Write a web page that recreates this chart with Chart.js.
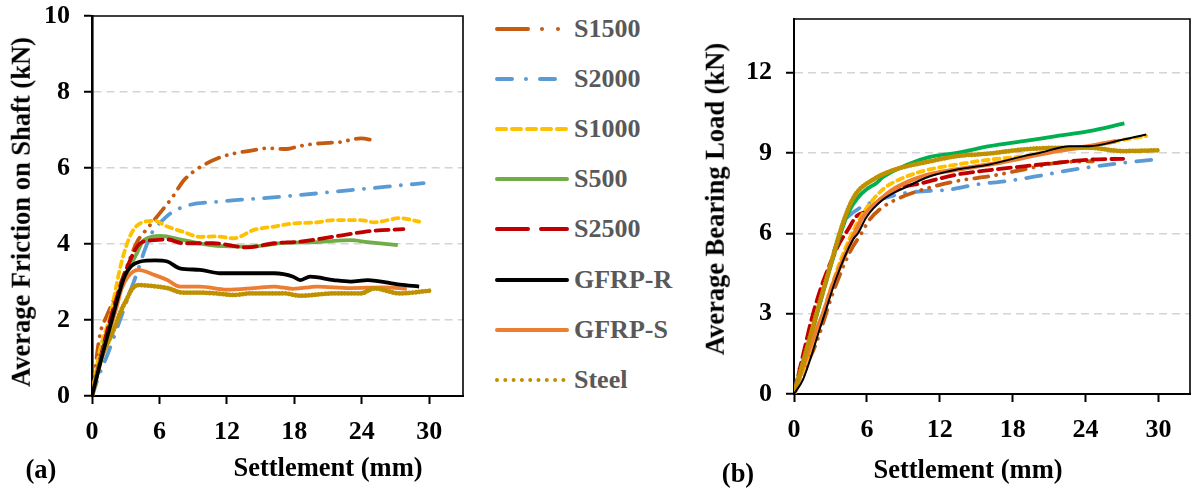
<!DOCTYPE html>
<html>
<head>
<meta charset="utf-8">
<script src="https://cdn.jsdelivr.net/npm/chart.js@4.4.1/dist/chart.umd.min.js"></script>
<style>
  html, body { margin: 0; padding: 0; background: #fff; }
  body { width: 1191px; height: 496px; position: relative; overflow: hidden;
         font-family: "Liberation Serif", "Times New Roman", serif; font-weight: bold; }
  .abs { position: absolute; white-space: nowrap; line-height: 1; }
  .t { font-size: 26.5px; color: #000; transform: translate(-50%, -50%); }
  .ty { font-size: 26.5px; color: #000; transform: translate(-50%, -50%) rotate(-90deg); }
  #wrapA { position: absolute; left: 0; top: 0; width: 470px; height: 496px; }
  #wrapB { position: absolute; left: 690px; top: 0; width: 501px; height: 496px; }
  .leg { position: absolute; left: 495px; height: 20px; display: flex; align-items: center; }
  .leg svg { display: block; }
  .leg span { font-size: 26px; color: #595959; margin-left: 5px; line-height: 1; }
</style>
</head>
<body>
<div id="wrapA"><canvas id="chartA" width="470" height="496"></canvas></div>
<div id="wrapB"><canvas id="chartB" width="501" height="496"></canvas></div>
<div id="legend"></div>
<div class="abs ty" style="left:21px; top:212px;">Average Friction on Shaft (kN)</div>
<div class="abs t" style="left:328px; top:467px;">Settlement (mm)</div>
<div class="abs t" style="left:41px; top:469px;">(a)</div>
<div class="abs ty" style="left:715px; top:199px;">Average Bearing Load (kN)</div>
<div class="abs t" style="left:968px; top:469px;">Settlement (mm)</div>
<div class="abs t" style="left:738px; top:473px;">(b)</div>
<script>
// ---------- categories / series names ----------
const seriesNames = ["S1500", "S2000", "S1000", "S500", "S2500", "GFRP-R", "GFRP-S", "Steel"];

// ---------- tick labels ----------
const xTicks = [0, 6, 12, 18, 24, 30];
const yTicksA = [0, 2, 4, 6, 8, 10];
const yTicksB = [0, 3, 6, 9, 12];

// ---------- (a) Average friction on shaft ----------
const s1500XA = [0, 0.7, 1.3, 2.2, 3.1, 4.0, 4.9, 6.0, 7.2, 8.1, 9.0, 10.2, 11.4, 12.6, 14.4, 15.5, 17.3, 18.5, 20.3, 22.0, 23.9, 25.2];
const s1500YA = [0, 1.6, 2.1, 2.7, 3.4, 4.05, 4.4, 4.8, 5.25, 5.65, 5.9, 6.12, 6.28, 6.38, 6.47, 6.52, 6.5, 6.58, 6.65, 6.68, 6.78, 6.72];
const s2000XA = [0, 0.7, 1.43, 2.6, 3.4, 4.1, 4.7, 5.3, 6.2, 7.2, 8.7, 11.1, 13.0, 15.0, 18.5, 21.0, 23.0, 25.0, 26.9, 29.5];
const s2000YA = [0, 0.6, 1.13, 2.09, 2.75, 3.32, 3.85, 4.28, 4.6, 4.85, 5.03, 5.11, 5.16, 5.2, 5.29, 5.36, 5.42, 5.47, 5.53, 5.6];
const s1000XA = [0, 0.7, 1.6, 2.6, 3.5, 4.7, 5.5, 6.7, 8.1, 9.6, 11.1, 12.6, 14.4, 16.2, 17.9, 20.0, 21.5, 23.9, 25.1, 27.4, 29.1];
const s1000YA = [0, 1.2, 2.09, 3.49, 4.28, 4.59, 4.61, 4.46, 4.32, 4.19, 4.2, 4.15, 4.37, 4.46, 4.54, 4.57, 4.63, 4.63, 4.57, 4.68, 4.59];
const s500XA = [0, 1.0, 2.0, 3.1, 4.0, 4.6, 6.1, 8.1, 11.1, 14.1, 17.1, 20.0, 23.0, 24.5, 27.2];
const s500YA = [0, 1.3, 2.3, 3.23, 3.76, 4.1, 4.21, 4.1, 3.95, 3.93, 4.03, 4.05, 4.1, 4.05, 3.97];
const s2500XA = [0, 1.0, 2.0, 3.4, 4.3, 5.5, 6.7, 8.1, 10.8, 13.8, 16.2, 18.5, 21.2, 23.3, 25.1, 27.7];
const s2500YA = [0, 1.3, 2.4, 3.58, 4.02, 4.1, 4.12, 4.02, 4.02, 3.91, 4.02, 4.06, 4.18, 4.28, 4.35, 4.39];
const gfrpRXA = [0, 0.8, 1.6, 2.9, 3.5, 4.3, 5.6, 6.7, 7.8, 9.6, 11.4, 14.4, 16.2, 17.9, 18.5, 19.4, 21.5, 23.0, 24.5, 27.4, 29.1];
const gfrpRYA = [0, 0.95, 1.82, 3.15, 3.42, 3.54, 3.57, 3.54, 3.36, 3.32, 3.23, 3.23, 3.23, 3.14, 3.05, 3.14, 3.05, 3.01, 3.05, 2.93, 2.88];
const gfrpSXA = [0, 1.0, 2.2, 2.6, 3.2, 4.1, 5.6, 6.7, 7.8, 9.6, 12.0, 14.4, 16.2, 17.9, 20.0, 23.0, 26.0, 28.0];
const gfrpSYA = [0, 1.2, 2.35, 2.8, 3.14, 3.32, 3.18, 3.05, 2.88, 2.88, 2.8, 2.84, 2.88, 2.82, 2.88, 2.84, 2.86, 2.82];
const steelXA = [0, 0.7, 1.13, 1.9, 2.6, 3.1, 3.5, 4.1, 5.5, 6.7, 8.1, 9.6, 11.0, 12.6, 14.1, 17.1, 18.5, 21.5, 23.9, 25.1, 27.4, 30.0];
const steelYA = [0, 0.85, 1.21, 1.72, 2.26, 2.55, 2.79, 2.92, 2.89, 2.84, 2.72, 2.72, 2.7, 2.66, 2.7, 2.7, 2.64, 2.7, 2.7, 2.83, 2.7, 2.77];

// ---------- (b) Average bearing load ----------
const s1500XB = [0, 0.74, 1.84, 3.2, 4.6, 5.55, 6.2, 7.05, 8.4, 10.6, 13.4, 16.1, 18.9, 21.6, 24.6];
const s1500YB = [0, 0.78, 1.91, 3.77, 5.3, 6.0, 6.5, 6.89, 7.26, 7.63, 7.95, 8.13, 8.38, 8.63, 8.69];
const s2000XB = [0, 0.47, 1.3, 2.0, 3.08, 3.6, 4.04, 4.4, 5.68, 7.06, 9.1, 10.6, 12.8, 15.0, 17.5, 20.0, 23.0, 27.1, 29.7];
const s2000YB = [0, 1.0, 2.1, 3.2, 5.02, 5.76, 6.4, 6.6, 7.01, 7.26, 7.5, 7.57, 7.63, 7.82, 7.95, 8.13, 8.38, 8.63, 8.75];
const s1000XB = [0, 1.56, 2.9, 4.3, 5.7, 7.3, 8.4, 10.6, 13.4, 16.1, 18.9, 21.6, 24.3, 26.5, 29.0];
const s1000YB = [0, 1.78, 3.77, 5.52, 6.76, 7.63, 7.95, 8.32, 8.57, 8.75, 8.88, 9.13, 9.25, 9.44, 9.63];
const s500XB = [0, 1.0, 1.9, 3.0, 3.8, 4.5, 5.2, 6.0, 6.8, 7.33, 9.25, 11.2, 13.4, 16.1, 18.9, 21.6, 24.3, 27.2];
const s500YB = [0, 1.55, 3.0, 4.75, 5.95, 6.8, 7.3, 7.65, 7.88, 8.1, 8.55, 8.85, 9.0, 9.25, 9.44, 9.63, 9.81, 10.1];
const s2500XB = [0, 0.74, 1.57, 2.4, 3.2, 3.76, 4.45, 5.14, 5.96, 6.8, 8.4, 10.6, 13.4, 16.1, 18.9, 21.6, 24.3, 27.1];
const s2500YB = [0, 1.45, 3.0, 4.2, 5.1, 5.64, 6.14, 6.64, 6.82, 7.14, 7.63, 7.88, 8.19, 8.36, 8.5, 8.63, 8.75, 8.78];
const gfrpRXB = [0, 0.74, 2.1, 2.53, 3.5, 4.86, 5.27, 5.96, 7.33, 9.1, 11.2, 13.4, 16.1, 18.9, 20.2, 22.7, 24.3, 27.1, 29.0];
const gfrpRYB = [0, 0.54, 2.4, 3.0, 4.35, 5.77, 6.0, 6.6, 7.26, 7.7, 8.13, 8.38, 8.57, 8.88, 9.0, 9.25, 9.25, 9.5, 9.69];
const gfrpSXB = [0, 0.47, 1.84, 2.39, 3.2, 4.6, 5.0, 5.7, 6.8, 8.4, 10.6, 13.4, 16.1, 18.9, 21.6, 24.3, 26.5];
const gfrpSYB = [0, 0.66, 2.4, 3.0, 4.1, 5.6, 6.0, 6.64, 7.14, 7.7, 8.13, 8.38, 8.57, 8.82, 9.07, 9.25, 9.44];
const steelXB = [0, 1.0, 1.85, 3.0, 3.76, 4.5, 5.14, 6.5, 8.0, 9.26, 10.6, 13.4, 16.1, 18.9, 21.6, 24.3, 27.1, 30.06];
const steelYB = [0, 1.6, 3.0, 4.8, 6.0, 6.95, 7.5, 8.0, 8.33, 8.5, 8.63, 8.88, 8.98, 9.13, 9.19, 9.19, 9.07, 9.1];

// ---------- styles ----------
const colors = { "S1500": "#C55A11", "S2000": "#5B9BD5", "S1000": "#FFC000", "S500": "#70AD47",
                 "S2500": "#C00000", "GFRP-R": "#000000", "GFRP-S": "#ED7D31", "Steel": "#BF9000" };
const dashes = { "S1500": [14, 8, 0.1, 8, 0.1, 8], "S2000": [15, 11, 0.1, 11], "S1000": [6, 5],
                 "S500": [], "S2500": [13, 6], "GFRP-R": [], "GFRP-S": [], "Steel": [0.1, 3.2] };

function pts(xs, ys) { return xs.map((x, i) => ({ x: x, y: ys[i] })); }
function ds(name, xs, ys, extra) {
  return Object.assign({
    label: name, data: pts(xs, ys), borderColor: colors[name], backgroundColor: colors[name],
    borderWidth: 3.8, borderDash: dashes[name], borderCapStyle: dashes[name].length ? 'round' : 'butt',
    borderJoinStyle: 'round', pointRadius: 0, cubicInterpolationMode: 'monotone', fill: false
  }, extra || {});
}

const frame = {
  id: 'frame',
  afterDatasetsDraw(chart) {
    const { ctx, chartArea: a } = chart;
    ctx.save();
    ctx.strokeStyle = '#000'; ctx.lineWidth = 1.6;
    ctx.beginPath(); ctx.moveTo(a.left, a.top); ctx.lineTo(a.right, a.top); ctx.lineTo(a.right, a.bottom); ctx.stroke();
    ctx.restore();
  }
};

const tickFont = { family: "'Liberation Serif', 'Times New Roman', serif", size: 26, weight: 'bold' };

function noPad(s) { s.paddingTop = 0; s.paddingBottom = 0; s.paddingLeft = 0; s.paddingRight = 0; }

function makeOptions(cfg) {
  return {
    responsive: false, animation: false, events: [],
    layout: { autoPadding: false, padding: cfg.padding },
    plugins: { legend: { display: false }, tooltip: { enabled: false } },
    scales: {
      x: {
        type: 'linear', min: 0, max: cfg.xmax,
        afterBuildTicks: s => { s.ticks = xTicks.map(v => ({ value: v })); },
        afterFit: s => { s.height = cfg.xh; noPad(s); },
        grid: { drawOnChartArea: false, drawTicks: true, tickLength: 8, tickColor: '#000', tickWidth: 2 },
        border: { display: true, color: '#000', width: 2 },
        ticks: { color: '#000', font: tickFont, padding: 13, maxRotation: 0, autoSkip: false }
      },
      y: {
        type: 'linear', min: 0, max: cfg.ymax,
        afterBuildTicks: s => { s.ticks = cfg.yt.map(v => ({ value: v })); },
        afterFit: s => { s.width = cfg.yw; noPad(s); },
        grid: { drawOnChartArea: true, drawTicks: true, tickLength: 8, tickColor: '#000', tickWidth: 2,
                lineWidth: 1.5,
                color: c => (c.tick && (c.tick.value === 0 || c.tick.value === cfg.ymax)) ? 'rgba(0,0,0,0)' : '#D4D4D4' },
        border: { display: true, color: '#000', width: cfg.yaxW, dash: [8, 5] },
        ticks: { color: '#000', font: tickFont, padding: cfg.ypad, autoSkip: false }
      }
    }
  };
}

new Chart(document.getElementById('chartA'), {
  type: 'line',
  data: { datasets: [
    ds("GFRP-R", gfrpRXA, gfrpRYA),
    ds("Steel", steelXA, steelYA, { borderWidth: 4.8 }),
    ds("GFRP-S", gfrpSXA, gfrpSYA),
    ds("S2500", s2500XA, s2500YA),
    ds("S500", s500XA, s500YA),
    ds("S1000", s1000XA, s1000YA),
    ds("S2000", s2000XA, s2000YA),
    ds("S1500", s1500XA, s1500YA)
  ] },
  options: makeOptions({ padding: { left: 0, top: 16, right: 7, bottom: 0 }, xmax: 33, ymax: 10,
                          yt: yTicksA, xh: 100, yw: 92, ypad: 14, yaxW: 2.6 }),
  plugins: [frame]
});

new Chart(document.getElementById('chartB'), {
  type: 'line',
  data: { datasets: [
    ds("GFRP-R", gfrpRXB, gfrpRYB, { borderWidth: 2 }),
    ds("Steel", steelXB, steelYB, { borderWidth: 4.8, borderDash: [0.1, 3] }),
    ds("GFRP-S", gfrpSXB, gfrpSYB, { borderWidth: 4.4 }),
    ds("S1000", s1000XB, s1000YB),
    ds("S500", s500XB, s500YB, { borderColor: '#00B050', backgroundColor: '#00B050' }),
    ds("S2500", s2500XB, s2500YB),
    ds("S1500", s1500XB, s1500YB),
    ds("S2000", s2000XB, s2000YB)
  ] },
  options: makeOptions({ padding: { left: 0, top: 19, right: 1, bottom: 0 }, xmax: 32.6, ymax: 14,
                          yt: yTicksB, xh: 102, yw: 104, ypad: 14, yaxW: 2 }),
  plugins: [frame]
});

// ---------- legend (HTML + SVG samples) ----------
const legendDash = { "S1500": "31 14 0 16 0 40", "S2000": "15 14 0 14 15 40", "S1000": "9 6",
                     "S500": "", "S2500": "31 13", "GFRP-R": "", "GFRP-S": "", "Steel": "0 8.3" };
const legend = document.getElementById('legend');
seriesNames.forEach((name, i) => {
  const row = document.createElement('div');
  row.className = 'leg';
  row.style.top = (29 + i * 50.1 - 10) + 'px';
  row.innerHTML = '<svg width="74" height="20"><line x1="2" y1="10" x2="72" y2="10" stroke="' + colors[name] +
    '" stroke-width="4" stroke-linecap="round"' + (legendDash[name] ? ' stroke-dasharray="' + legendDash[name] + '"' : '') +
    '/></svg><span>' + name + '</span>';
  legend.appendChild(row);
});
</script>
</body>
</html>
